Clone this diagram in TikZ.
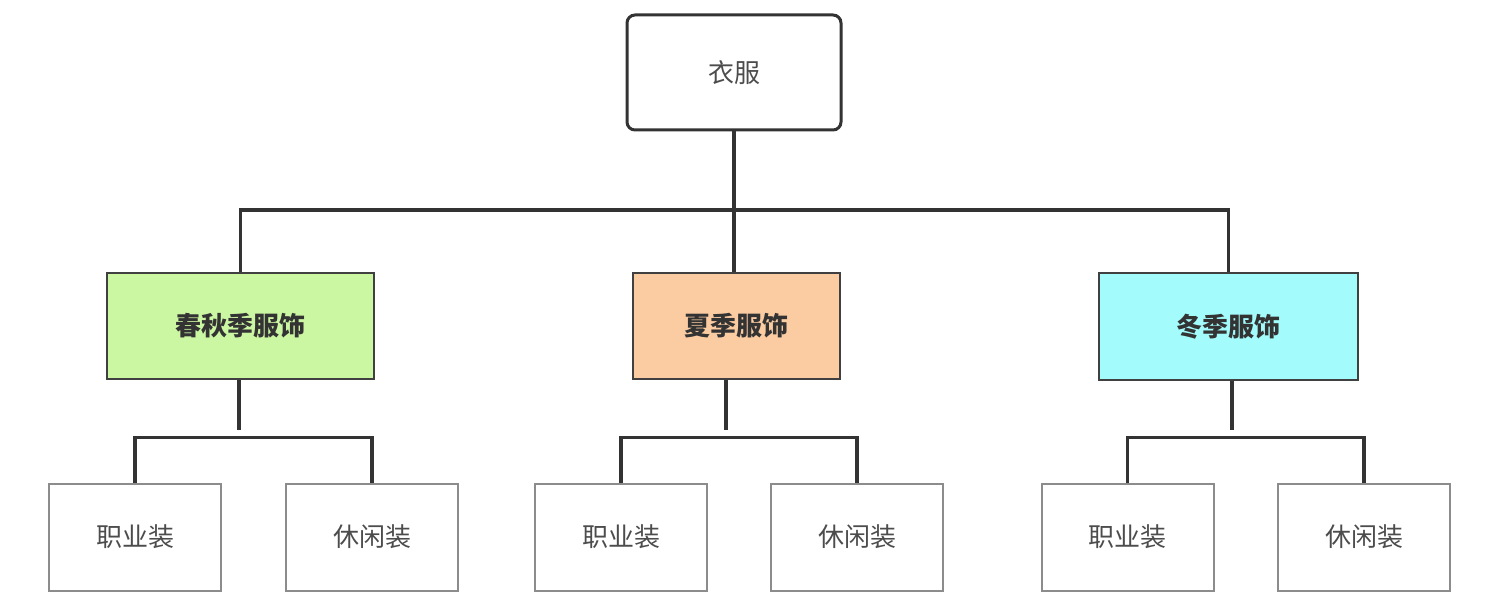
\documentclass[tikz,border=0pt]{standalone}
\usepackage{fontspec}
\setmainfont{Noto Sans CJK SC}
\usepackage{tikz}
\usetikzlibrary{positioning}

\definecolor{springgreen}{HTML}{CCF7A2}
\definecolor{summerorange}{HTML}{FBCBA2}
\definecolor{wintercyan}{HTML}{A3FBFC}
\definecolor{linegray}{HTML}{333333}

\begin{document}
\begin{tikzpicture}[x=1pt, y=-1pt,
    rootbox/.style={rectangle, rounded corners=8pt, draw=linegray, line width=3pt,
        minimum width=214pt, minimum height=115pt, text=black!70,
        font=\fontsize{26}{30}\selectfont},
    seasonbox/.style={rectangle, draw=black!75, line width=2pt,
        minimum height=106pt, text=black!80,
        font=\fontsize{26}{30}\selectfont\bfseries},
    leafbox/.style={rectangle, draw=black!45, line width=2pt,
        minimum width=172pt, minimum height=107pt, text=black!70,
        font=\fontsize{26}{30}\selectfont},
    link/.style={draw=linegray, line width=3.5pt}]
    \useasboundingbox (0,0) rectangle (1493,609);

    \node[rootbox] (root) at (734, 72.5) {衣服};

    \node[seasonbox, fill=springgreen, minimum width=267pt] (spring) at (240.5, 326) {春秋季服饰};
    \node[seasonbox, fill=summerorange, minimum width=207pt] (summer) at (736.5, 326) {夏季服饰};
    \node[seasonbox, fill=wintercyan, minimum width=259pt] (winter) at (1228.5, 326.5) {冬季服饰};

    \node[leafbox] (spring-work) at (135, 537) {职业装};
    \node[leafbox] (spring-casual) at (372, 537) {休闲装};
    \node[leafbox] (summer-work) at (621, 537) {职业装};
    \node[leafbox] (summer-casual) at (857, 537) {休闲装};
    \node[leafbox] (winter-work) at (1127.5, 537) {职业装};
    \node[leafbox] (winter-casual) at (1364, 537) {休闲装};

    % top level
    \coordinate (bus) at (734, 210);
    \draw[link] (root.south) -- (root.south |- summer.north);
    \draw[link] (spring.north) |- (bus) -| (winter.north);

    % second level
    \coordinate (spring-stub) at (239, 430);
    \coordinate (summer-stub) at (726, 430);
    \coordinate (winter-stub) at (1232, 430);
    \draw[link] (spring.south -| spring-stub) -- (spring-stub);
    \draw[link] (summer.south -| summer-stub) -- (summer-stub);
    \draw[link] (winter.south -| winter-stub) -- (winter-stub);

    \coordinate (spring-bus) at (250, 437.5);
    \coordinate (summer-bus) at (738, 437.5);
    \coordinate (winter-bus) at (1245, 437.5);
    \draw[link] (spring-work.north) |- (spring-bus) -| (spring-casual.north);
    \draw[link] (summer-work.north) |- (summer-bus) -| (summer-casual.north);
    \draw[link] (winter-work.north) |- (winter-bus) -| (winter-casual.north);
\end{tikzpicture}
\end{document}
